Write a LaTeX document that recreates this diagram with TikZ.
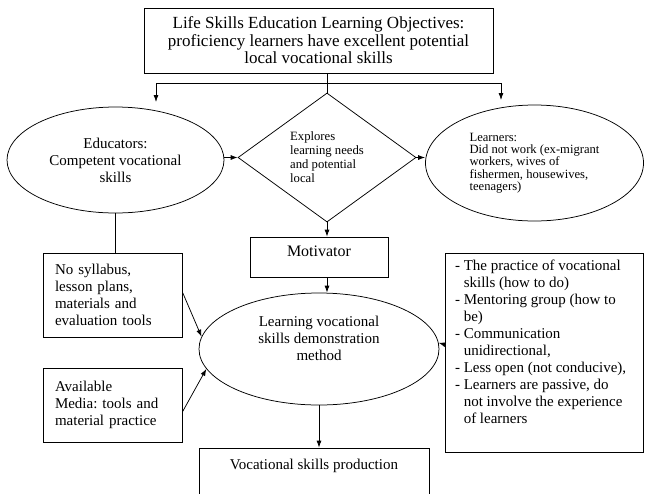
\documentclass[tikz,border=0pt]{standalone}
\usepackage{fontspec}
\setmainfont{Liberation Serif}
\frenchspacing
\usetikzlibrary{arrows.meta,shapes.geometric}
\tikzset{%
  >={Latex[width=5pt,length=7pt]},
  % Styles for the boxes, ovals and the diamond:
           base/.style = {draw=black, line width=0.75pt, text centered, inner sep=0pt},
  box/.style   = {base, rectangle},
  oval/.style  = {base, ellipse},
  rhomb/.style = {base, diamond},
  txt/.style   = {font=\fontsize{15}{17}\selectfont},
}

\begin{document}
\begin{tikzpicture}[x=1pt, y=-1pt, line width=0.75pt]
  \useasboundingbox (0,0) rectangle (645,493);
  \clip (0,0) rectangle (645,493);

  % Nodes, placed at their positions
  \node (onObjectives) [box, minimum width=349pt, minimum height=65pt, align=center,
                        font=\fontsize{17}{17.5}\selectfont] at (318.5,40.5)
        {Life Skills Education Learning Objectives:\\ proficiency learners have excellent potential\\ local vocational skills};
  \node (onEducators)  [oval, txt, align=center, minimum width=217pt, minimum height=106pt] at (115.5,160)
        {Educators:\\ Competent vocational\\ skills};
  \node (onExplores)   [rhomb, align=left, minimum width=178pt, minimum height=129pt,
                        font=\fontsize{12.7}{14}\selectfont] at (327,157.5)
        {Explores\\ learning needs\\ and potential\\ local};
  \node (onLearners)   [oval, align=left, minimum width=218pt, minimum height=116pt,
                        font=\fontsize{12.6}{12.3}\selectfont] at (534.5,163)
        {Learners:\\ Did not work (ex-migrant\\ workers, wives of\\ fishermen, housewives,\\ teenagers)};
  \node (onMotivator)  [box, minimum width=138pt, inner ysep=8pt, text height=11pt, text depth=13pt,
                        font=\fontsize{16}{18}\selectfont] at (319,257) {Motivator};
  \node (onMethod)     [oval, txt, minimum width=240pt, minimum height=112pt] at (319,349)
        {\parbox[c][66pt][t]{150pt}{\centering Learning vocational\\ skills demonstration\\ method}};
  \node (onNoSyllabus) [box, txt, align=left, text width=115pt, inner xsep=12pt, minimum height=84pt] at (112.5,295)
        {No syllabus,\\ lesson plans,\\ materials and\\ evaluation tools};
  \node (onAvailable)  [box, txt, align=left, text width=115pt, inner xsep=12pt, minimum height=74pt] at (112.5,405)
        {Available\\ Media: tools and\\ material practice};
  \node (onPractice)   [box, txt, inner xsep=10pt, inner ysep=7pt] at (544,352.5)
        {\parbox[c][185pt][t]{178pt}{- The practice of vocational\\ \hphantom{- }skills (how to do)\\
         - Mentoring group (how to\\ \hphantom{- }be)\\ - Communication\\ \hphantom{- }unidirectional,\\
         - Less open (not conducive),\\ - Learners are passive, do\\ \hphantom{- }not involve the experience\\
         \hphantom{- }of learners}};
  \node (onProduction) [box, txt, minimum width=230pt, inner ysep=11pt, text height=10pt, text depth=40pt] at (314,484)
        {Vocational skills production};

  % Lines between the nodes
  \coordinate (onSplit)    at (onExplores.north |- 0,83);
  \coordinate (onLeftTip)  at (156,102);
  \coordinate (onRightTip) at (501,100);
  \draw      (onExplores.north |- onObjectives.south) -- (onExplores.north);
  \draw[->]  (onSplit) -| (onLeftTip);
  \draw[->]  (onSplit) -| (onRightTip);
  \draw[->]  (onEducators.east |- onExplores.west) -- (onExplores.west);
  \draw[->]  (onExplores.east) -- (onLearners.west |- onExplores.east);
  \draw[->]  (onExplores.south) -- (onExplores.south |- onMotivator.north);
  \draw[->]  (onExplores.south |- onMotivator.south) -- (onExplores.south |- onMethod.north);
  \draw      (onEducators.south) -- (onEducators.south |- onNoSyllabus.north);
  \draw[->]  ([yshift=3pt]onNoSyllabus.east) -- (onMethod.174);
  \draw[->]  ([yshift=-7pt]onAvailable.east) -- (onMethod.190);
  \draw[->]  ([yshift=8pt]onPractice.west) -- (onMethod.3);
  \draw[->]  (onMethod.south) -- (onMethod.south |- onProduction.north);
\end{tikzpicture}
\end{document}
